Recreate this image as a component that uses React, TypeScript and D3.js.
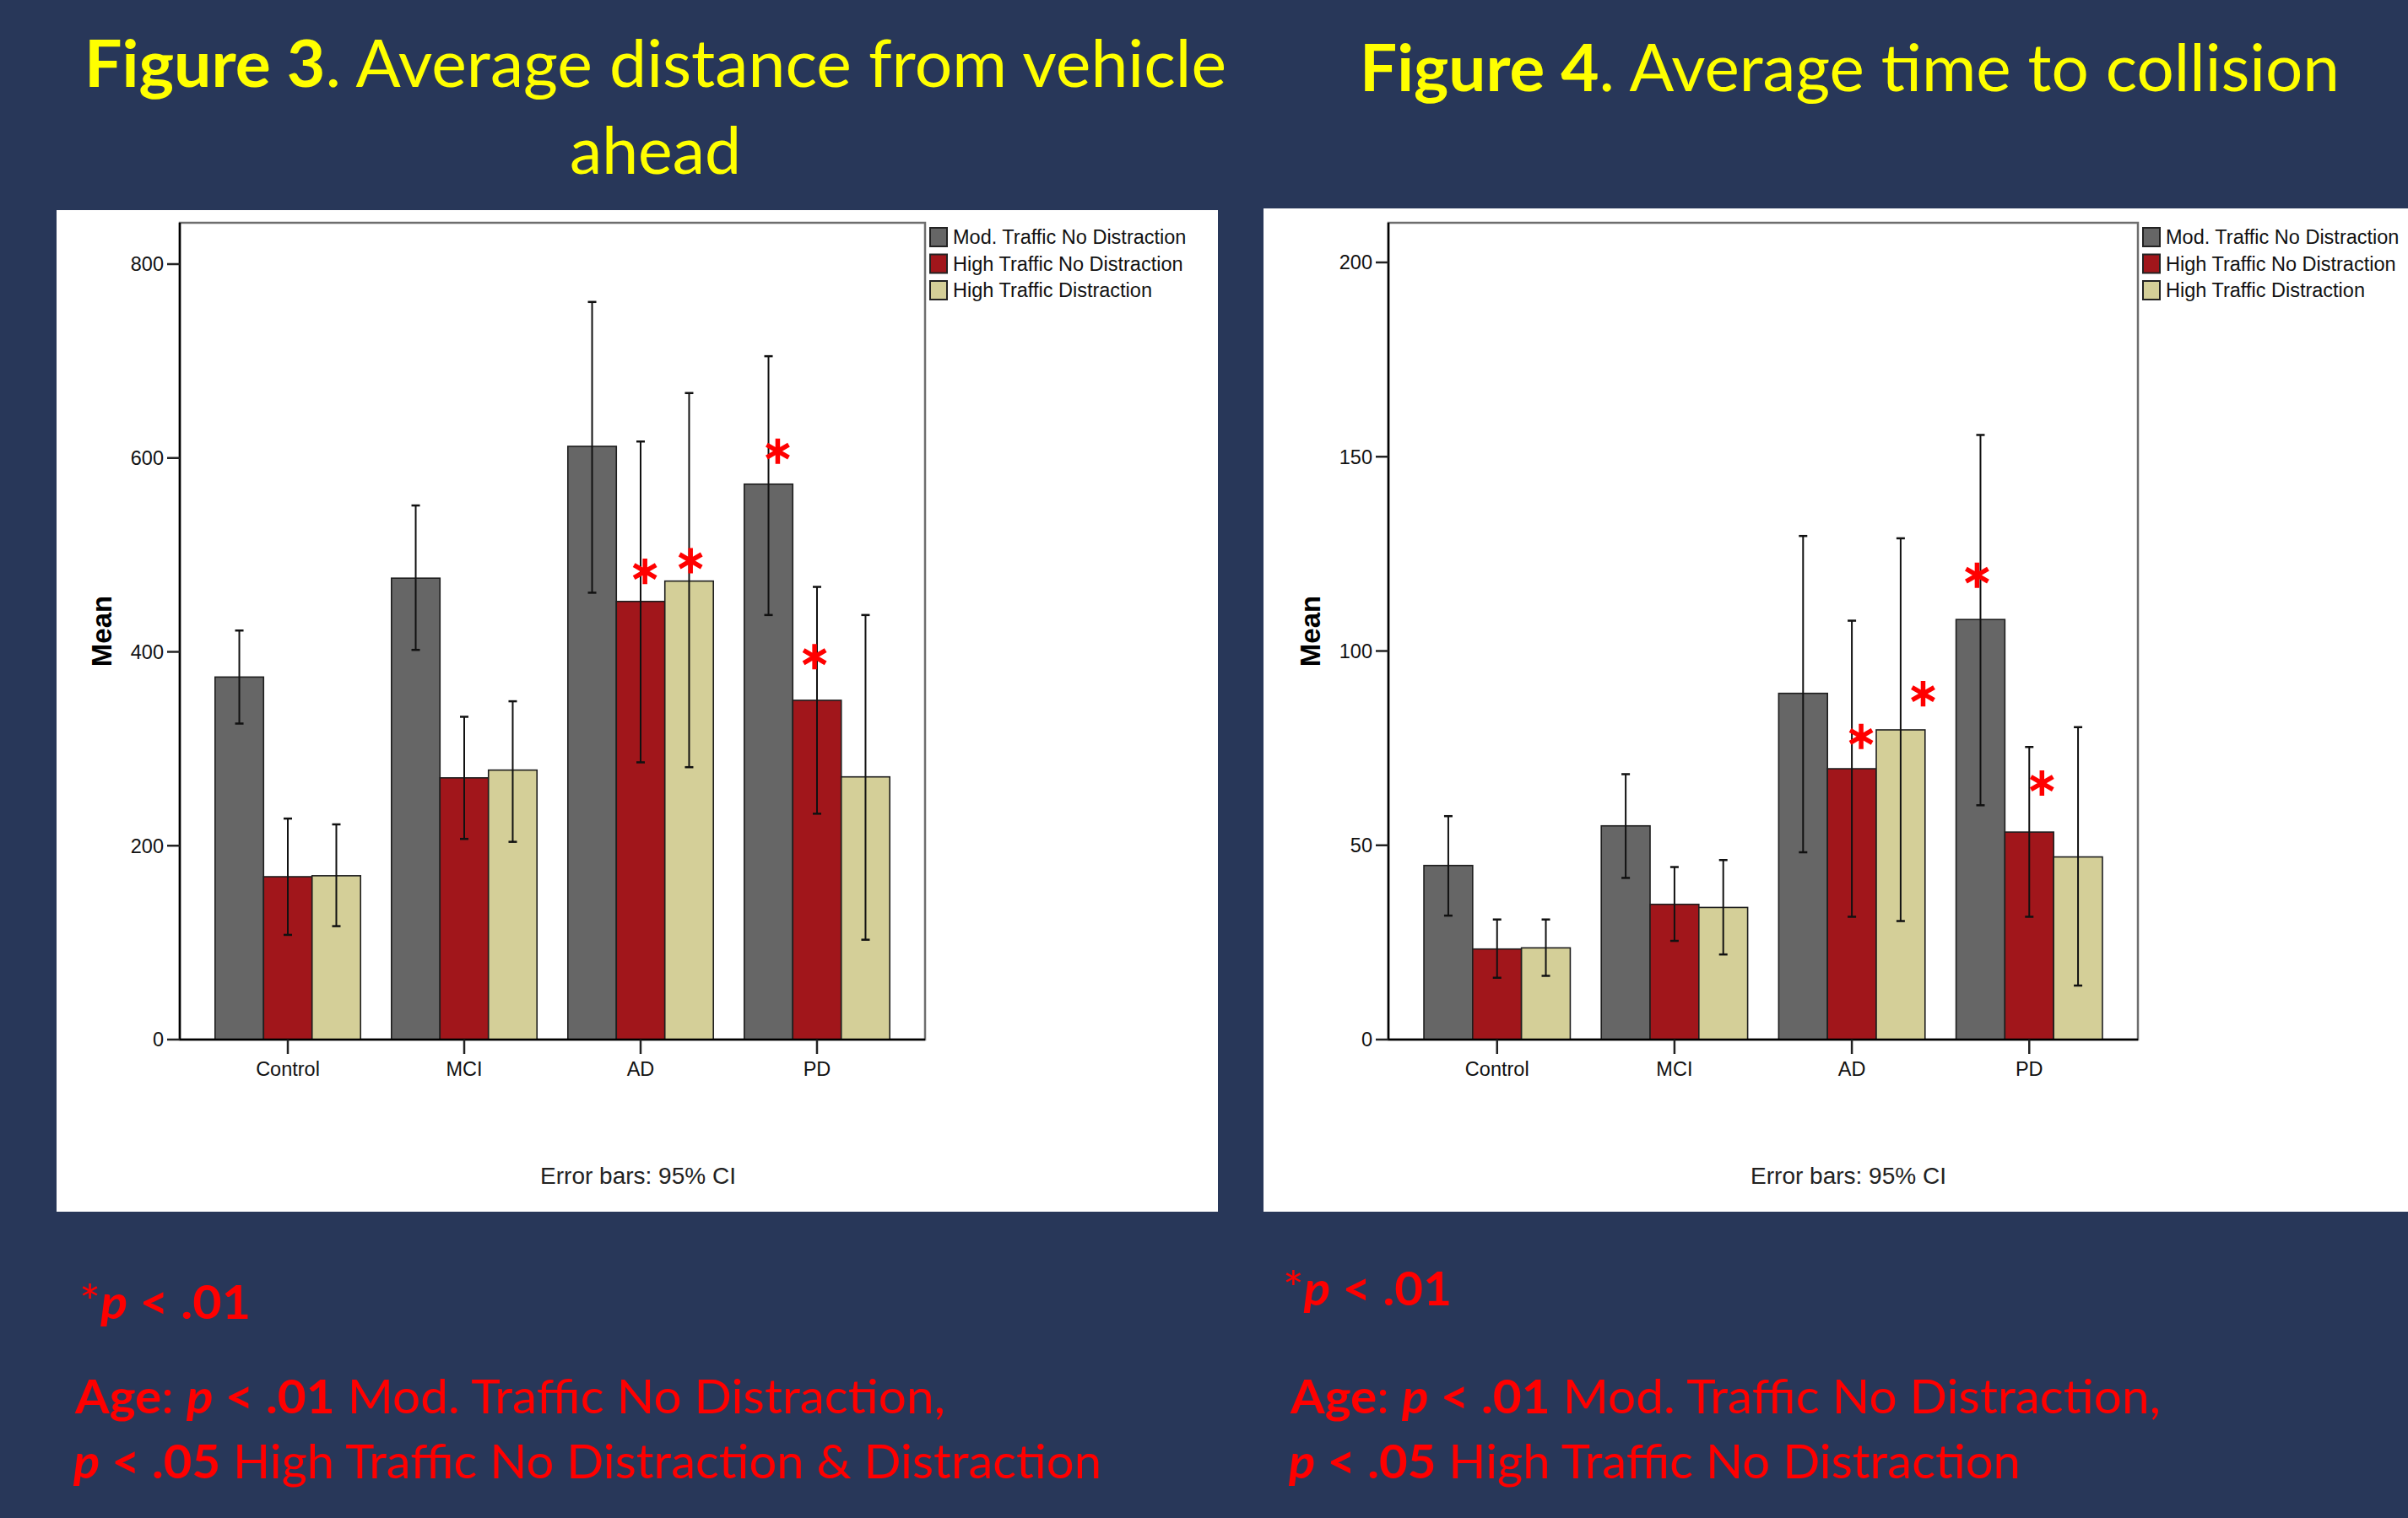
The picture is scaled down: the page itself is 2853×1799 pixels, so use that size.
import React, { useEffect } from 'react';
import * as d3 from 'd3';

// ---------- data ----------
const groups = ['Control', 'MCI', 'AD', 'PD'];
const seriesNames = ['Mod. Traffic No Distraction', 'High Traffic No Distraction', 'High Traffic Distraction'];
const seriesColors = ['#666666', '#a1161b', '#d4cf98'];

// Figure 3: average distance from vehicle ahead (means per group, per series)
const fig3Mod = [374, 476, 612, 573];
const fig3HighNo = [168, 270, 452, 350];
const fig3HighDis = [169, 278, 473, 271];
const fig3ModCI = [[326, 422], [402, 551], [461, 761], [438, 705]];
const fig3HighNoCI = [[108, 228], [207, 333], [286, 617], [233, 467]];
const fig3HighDisCI = [[117, 222], [204, 349], [281, 667], [103, 438]];
const fig3Ticks = [0, 200, 400, 600, 800];
// significance stars: group, series, value, horizontal shift (bar widths)
const fig3Stars = [
  { g: 2, s: 1, v: 483, shift: 0.09 },
  { g: 2, s: 2, v: 494, shift: 0.03 },
  { g: 3, s: 0, v: 607, shift: 0.19 },
  { g: 3, s: 1, v: 395, shift: -0.05 },
];

// Figure 4: average time to collision
const fig4Mod = [44.8, 55.0, 89.1, 108.1];
const fig4HighNo = [23.3, 34.8, 69.7, 53.4];
const fig4HighDis = [23.6, 34.0, 79.7, 47.0];
const fig4ModCI = [[31.9, 57.5], [41.6, 68.3], [48.2, 129.6], [60.3, 155.6]];
const fig4HighNoCI = [[15.9, 30.9], [25.4, 44.4], [31.6, 107.8], [31.6, 75.3]];
const fig4HighDisCI = [[16.4, 30.9], [21.9, 46.2], [30.5, 129.0], [13.9, 80.4]];
const fig4Ticks = [0, 50, 100, 150, 200];
const fig4Stars = [
  { g: 2, s: 1, v: 78, shift: 0.19 },
  { g: 2, s: 2, v: 89, shift: 0.46 },
  { g: 3, s: 0, v: 119.5, shift: -0.07 },
  { g: 3, s: 1, v: 66, shift: 0.26 },
];

const BG = '#283759';
const SANS = '"Liberation Sans", Arial, sans-serif';
const TITLE = 'Lato, "Open Sans", sans-serif';

type Star = { g: number; s: number; v: number; shift: number };

function BarPanel(props: {
  panelX: number; panelY: number; panelW: number; panelH: number;
  frameX0: number; frameX1: number; frameY0: number;
  y0px: number; yTopPx: number; yTopVal: number;
  means: number[][]; cis: number[][][]; ticks: number[]; stars: Star[];
  errorX: number;
}) {
  const { panelX, panelY, panelW, panelH, frameX0, frameX1, frameY0, y0px, yTopPx, yTopVal, means, cis, ticks, stars, errorX } = props;
  const x = d3.scaleBand<string>().domain(groups).range([frameX0, frameX1]).paddingInner(0.175).paddingOuter(0.2);
  const xs = d3.scaleBand<number>().domain([0, 1, 2]).range([0, x.bandwidth()]);
  const y = d3.scaleLinear().domain([0, yTopVal]).range([y0px, yTopPx]);
  const bw = xs.bandwidth();
  const star = d3.symbol().type(d3.symbolAsterisk).size(640)();
  return (
    <g>
      <rect x={panelX} y={panelY} width={panelW} height={panelH} fill="#ffffff" />
      <rect x={frameX0} y={frameY0} width={frameX1 - frameX0} height={y0px - frameY0} fill="none" stroke="#6e6e6e" strokeWidth={2.5} />
      {/* bars */}
      {groups.map((g, gi) => (
        <g key={g}>
          {[0, 1, 2].map((s) => {
            const v = means[s][gi];
            return (
              <rect key={s} x={(x(g) as number) + (xs(s) as number)} y={y(v)} width={bw} height={y(0) - y(v)}
                fill={seriesColors[s]} stroke="#1e1e1e" strokeWidth={1.6} />
            );
          })}
        </g>
      ))}
      {/* error bars */}
      {groups.map((g, gi) => (
        <g key={'e' + g}>
          {[0, 1, 2].map((s) => {
            const cx = (x(g) as number) + (xs(s) as number) + bw / 2;
            const [lo, hi] = cis[s][gi];
            return (
              <g key={s} stroke="#111" strokeWidth={2}>
                <line x1={cx} x2={cx} y1={y(lo)} y2={y(hi)} />
                <line x1={cx - 5} x2={cx + 5} y1={y(lo)} y2={y(lo)} strokeWidth={2.5} />
                <line x1={cx - 5} x2={cx + 5} y1={y(hi)} y2={y(hi)} strokeWidth={2.5} />
              </g>
            );
          })}
        </g>
      ))}
      {/* axes */}
      <line x1={frameX0} x2={frameX0} y1={frameY0} y2={y0px} stroke="#000" strokeWidth={2.5} />
      <line x1={frameX0} x2={frameX1} y1={y0px} y2={y0px} stroke="#000" strokeWidth={2.5} />
      {ticks.map((t) => (
        <g key={t}>
          <line x1={frameX0 - 15} x2={frameX0} y1={y(t)} y2={y(t)} stroke="#222" strokeWidth={2.5} />
          <text x={frameX0 - 19} y={y(t)} dy="0.36em" textAnchor="end" fontFamily={SANS} fontSize={23.5} fill="#111">{t}</text>
        </g>
      ))}
      {groups.map((g) => {
        const cx = (x(g) as number) + x.bandwidth() / 2;
        return (
          <g key={'t' + g}>
            <line x1={cx} x2={cx} y1={y0px} y2={y0px + 17} stroke="#222" strokeWidth={2.5} />
            <text x={cx} y={y0px + 43} textAnchor="middle" fontFamily={SANS} fontSize={23.5} fill="#111">{g}</text>
          </g>
        );
      })}
      <text transform={`translate(${frameX0 - 93},${(frameY0 + y0px) / 2}) rotate(-90)`} textAnchor="middle" dy="0.36em"
        fontFamily={SANS} fontSize={33} fontWeight="bold" fill="#000">Mean</text>
      {/* legend */}
      {seriesNames.map((n, i) => (
        <g key={n}>
          <rect x={frameX1 + 6} y={frameY0 + 6 + i * 31.5} width={20} height={22} fill={seriesColors[i]} stroke="#222" strokeWidth={2} />
          <text x={frameX1 + 33} y={frameY0 + 25 + i * 31.5} fontFamily={SANS} fontSize={23.5} fill="#111">{n}</text>
        </g>
      ))}
      <text x={errorX} y={1403} textAnchor="middle" fontFamily={SANS} fontSize={28} fill="#222">Error bars: 95% CI</text>
      {/* significance stars */}
      {stars.map((st, i) => {
        const cx = (x(groups[st.g]) as number) + (xs(st.s) as number) + bw / 2 + st.shift * bw;
        return <path key={i} d={star as string} transform={`translate(${cx},${y(st.v)})`} fill="none" stroke="#ff0000" strokeWidth={5.5} />;
      })}
    </g>
  );
}

export default function App() {
  useEffect(() => {
    document.body.style.margin = '0';
    document.body.style.overflow = 'hidden';
  }, []);
  const W = 2853;
  const H = 1799;
  return (
    <svg width={W} height={H} style={{ position: 'absolute', left: 0, top: 0, display: 'block' }}>
      <rect x={0} y={0} width={W} height={H} fill={BG} />
      {/* titles */}
      <text x={100} y={103} fontFamily={TITLE} fontSize={77} fill="#ffff00" textLength={1353} lengthAdjust="spacingAndGlyphs">
        <tspan fontWeight="bold">Figure 3</tspan><tspan>. Average distance from vehicle</tspan>
      </text>
      <text x={675} y={206} fontFamily={TITLE} fontSize={77} fill="#ffff00" textLength={203} lengthAdjust="spacingAndGlyphs">ahead</text>
      <text x={1611} y={108} fontFamily={TITLE} fontSize={77} fill="#ffff00" textLength={1161} lengthAdjust="spacingAndGlyphs">
        <tspan fontWeight="bold">Figure 4</tspan><tspan>. Average time to collision</tspan>
      </text>

      <BarPanel panelX={67} panelY={249} panelW={1376} panelH={1187}
        frameX0={213} frameX1={1096} frameY0={264} y0px={1232} yTopPx={313} yTopVal={800}
        means={[fig3Mod, fig3HighNo, fig3HighDis]} cis={[fig3ModCI, fig3HighNoCI, fig3HighDisCI]}
        ticks={fig3Ticks} stars={fig3Stars} errorX={756} />
      <BarPanel panelX={1497} panelY={247} panelW={1356} panelH={1189}
        frameX0={1645} frameX1={2533} frameY0={264} y0px={1232} yTopPx={311} yTopVal={200}
        means={[fig4Mod, fig4HighNo, fig4HighDis]} cis={[fig4ModCI, fig4HighNoCI, fig4HighDisCI]}
        ticks={fig4Ticks} stars={fig4Stars} errorX={2190} />

      {/* footnotes */}
      <g fontFamily={TITLE} fontSize={56} fill="#ff0000">
        <text x={94} y={1563} textLength={203} lengthAdjust="spacingAndGlyphs">
          <tspan>*</tspan><tspan fontWeight="bold" fontStyle="italic">p</tspan><tspan fontWeight="bold"> &lt; .01</tspan>
        </text>
        <text x={89} y={1675} textLength={1031} lengthAdjust="spacingAndGlyphs">
          <tspan fontWeight="bold">Age</tspan><tspan>: </tspan><tspan fontWeight="bold" fontStyle="italic">p</tspan><tspan fontWeight="bold"> &lt; .01</tspan><tspan> Mod. Traffic No Distraction,</tspan>
        </text>
        <text x={87} y={1752} textLength={1218} lengthAdjust="spacingAndGlyphs">
          <tspan fontWeight="bold" fontStyle="italic">p</tspan><tspan fontWeight="bold"> &lt; .05</tspan><tspan> High Traffic No Distraction &amp; Distraction</tspan>
        </text>
        <text x={1520} y={1547} textLength={200} lengthAdjust="spacingAndGlyphs">
          <tspan>*</tspan><tspan fontWeight="bold" fontStyle="italic">p</tspan><tspan fontWeight="bold"> &lt; .01</tspan>
        </text>
        <text x={1529} y={1675} textLength={1031} lengthAdjust="spacingAndGlyphs">
          <tspan fontWeight="bold">Age</tspan><tspan>: </tspan><tspan fontWeight="bold" fontStyle="italic">p</tspan><tspan fontWeight="bold"> &lt; .01</tspan><tspan> Mod. Traffic No Distraction,</tspan>
        </text>
        <text x={1527} y={1752} textLength={867} lengthAdjust="spacingAndGlyphs">
          <tspan fontWeight="bold" fontStyle="italic">p</tspan><tspan fontWeight="bold"> &lt; .05</tspan><tspan> High Traffic No Distraction</tspan>
        </text>
      </g>
    </svg>
  );
}
